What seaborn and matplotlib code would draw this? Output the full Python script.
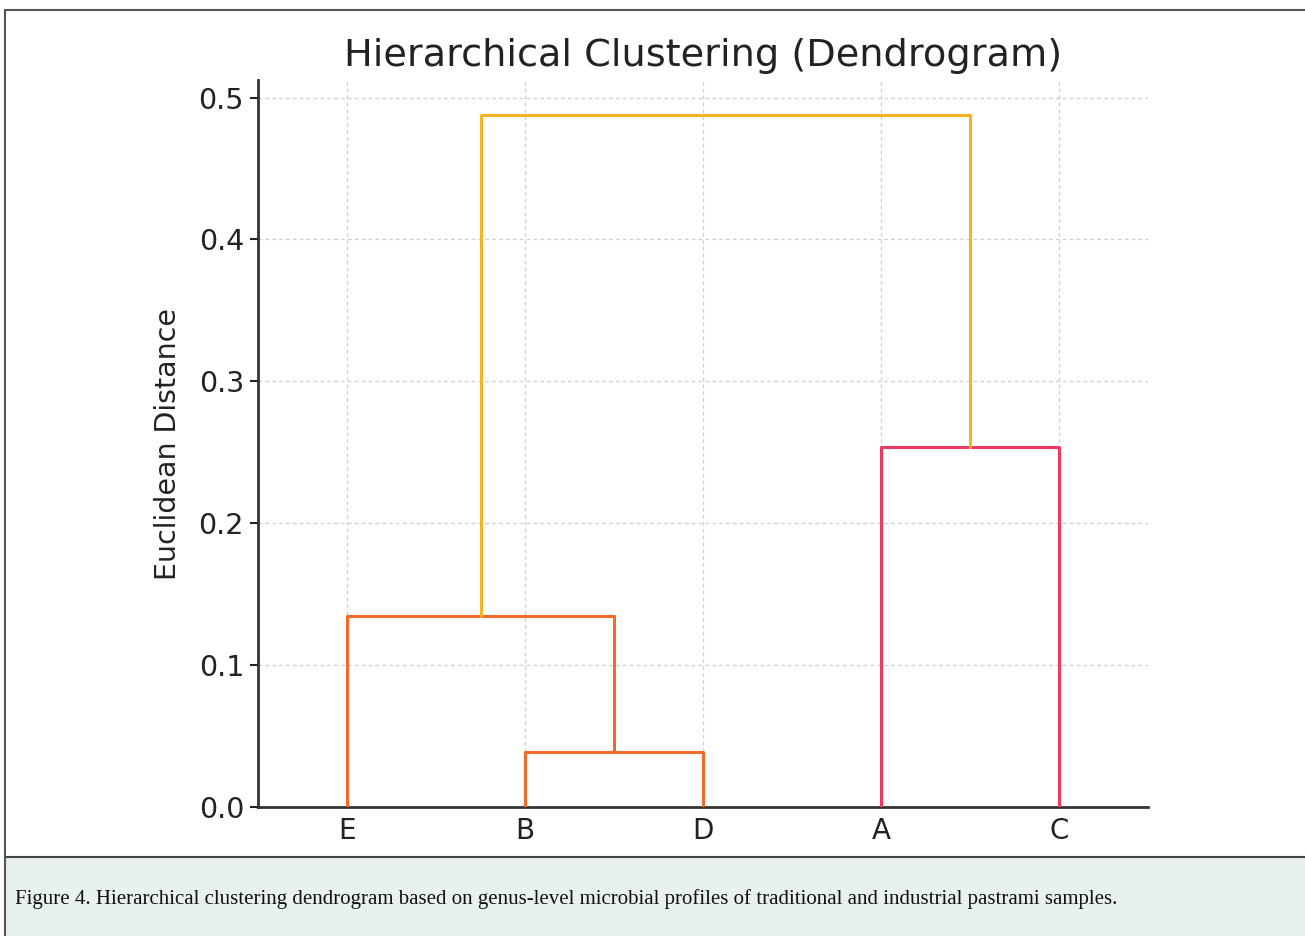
import matplotlib
matplotlib.use("Agg")
import matplotlib.pyplot as plt
import seaborn as sns
import pandas as pd
from matplotlib.lines import Line2D
from matplotlib.patches import Rectangle

# ---- data ----
leaf_labels = ["E", "B", "D", "A", "C"]
# merges: (left cluster, right cluster, height, colour)
merge_left = ["B", "E", "A", "EBD"]
merge_right = ["D", "BD", "C", "AC"]
merge_height = [0.039, 0.1345, 0.2535, 0.488]
merge_color = ["#f2692a", "#f2692a", "#ee3a62", "#f4b323"]
y_ticks = [0.0, 0.1, 0.2, 0.3, 0.4, 0.5]

title = "Hierarchical Clustering (Dendrogram)"
ylabel = "Euclidean Distance"
caption = ("Figure 4. Hierarchical clustering dendrogram based on genus-level microbial "
           "profiles of traditional and industrial pastrami samples.")

sns.set_theme(style="white")
plt.rcParams['font.family'] = ['DejaVu Sans']

fig = plt.figure(figsize=(13.05, 9.36), dpi=100)
ax = fig.add_axes([258/1305, 1-807/936, (1148-258)/1305, (807-80)/936])

# positions of clusters (scipy-style: leaves at 5, 15, 25, ...)
pos = {lab: 5 + 10*i for i, lab in enumerate(leaf_labels)}
hgt = {lab: 0.0 for lab in leaf_labels}
for l, r, h, c in zip(merge_left, merge_right, merge_height, merge_color):
    xl, xr = pos[l], pos[r]
    df = pd.DataFrame({"x": [xl, xl, xr, xr], "y": [hgt[l], h, h, hgt[r]]})
    sns.lineplot(data=df, x="x", y="y", sort=False, estimator=None,
                 color=c, linewidth=2.2, ax=ax, zorder=3)
    new = l + r
    pos[new] = (xl + xr) / 2
    hgt[new] = h

ax.set_xlim(0, 10*len(leaf_labels))
ax.set_ylim(0, max(merge_height)*1.05)
ax.set_xticks([5 + 10*i for i in range(len(leaf_labels))])
ax.set_xticklabels(leaf_labels)
ax.set_yticks(y_ticks)
ax.set_yticklabels([f"{v:.1f}" for v in y_ticks])

ax.tick_params(axis="x", length=0, pad=7, labelsize=20, colors="#222222")
ax.tick_params(axis="y", length=6, width=1.5, pad=4, labelsize=20.5, colors="#222222",
               left=True)
ax.set_xlabel("")
ax.set_ylabel(ylabel, fontsize=20.5, color="#222222", labelpad=12)
ax.set_title(title, fontsize=27.5, color="#222222", pad=10)

ax.grid(True, linestyle=(0, (3, 2.5)), color="#cfcfcf", linewidth=0.9)
ax.set_axisbelow(True)
sns.despine(ax=ax)
for s in ["left", "bottom"]:
    ax.spines[s].set_color("#333333")
    ax.spines[s].set_linewidth(2)

# caption band and frame
fig.patches.append(Rectangle((5/1305, 0), 1, (936-857)/936, transform=fig.transFigure,
                             facecolor="#e8f0f0", edgecolor="none", zorder=0))
fig.add_artist(Line2D([5/1305, 1], [1-857/936, 1-857/936], color="#444444", linewidth=1.5))
fig.add_artist(Line2D([5/1305, 5/1305], [0, 1-10/936], color="#555555", linewidth=1.5))
fig.add_artist(Line2D([5/1305, 1], [1-10/936, 1-10/936], color="#555555", linewidth=1.5))
fig.text(15/1305, 1-899/936, caption, fontsize=15, family="Liberation Serif",
         color="#111111", va="center", ha="left")

fig.savefig("out.png", dpi=100)
